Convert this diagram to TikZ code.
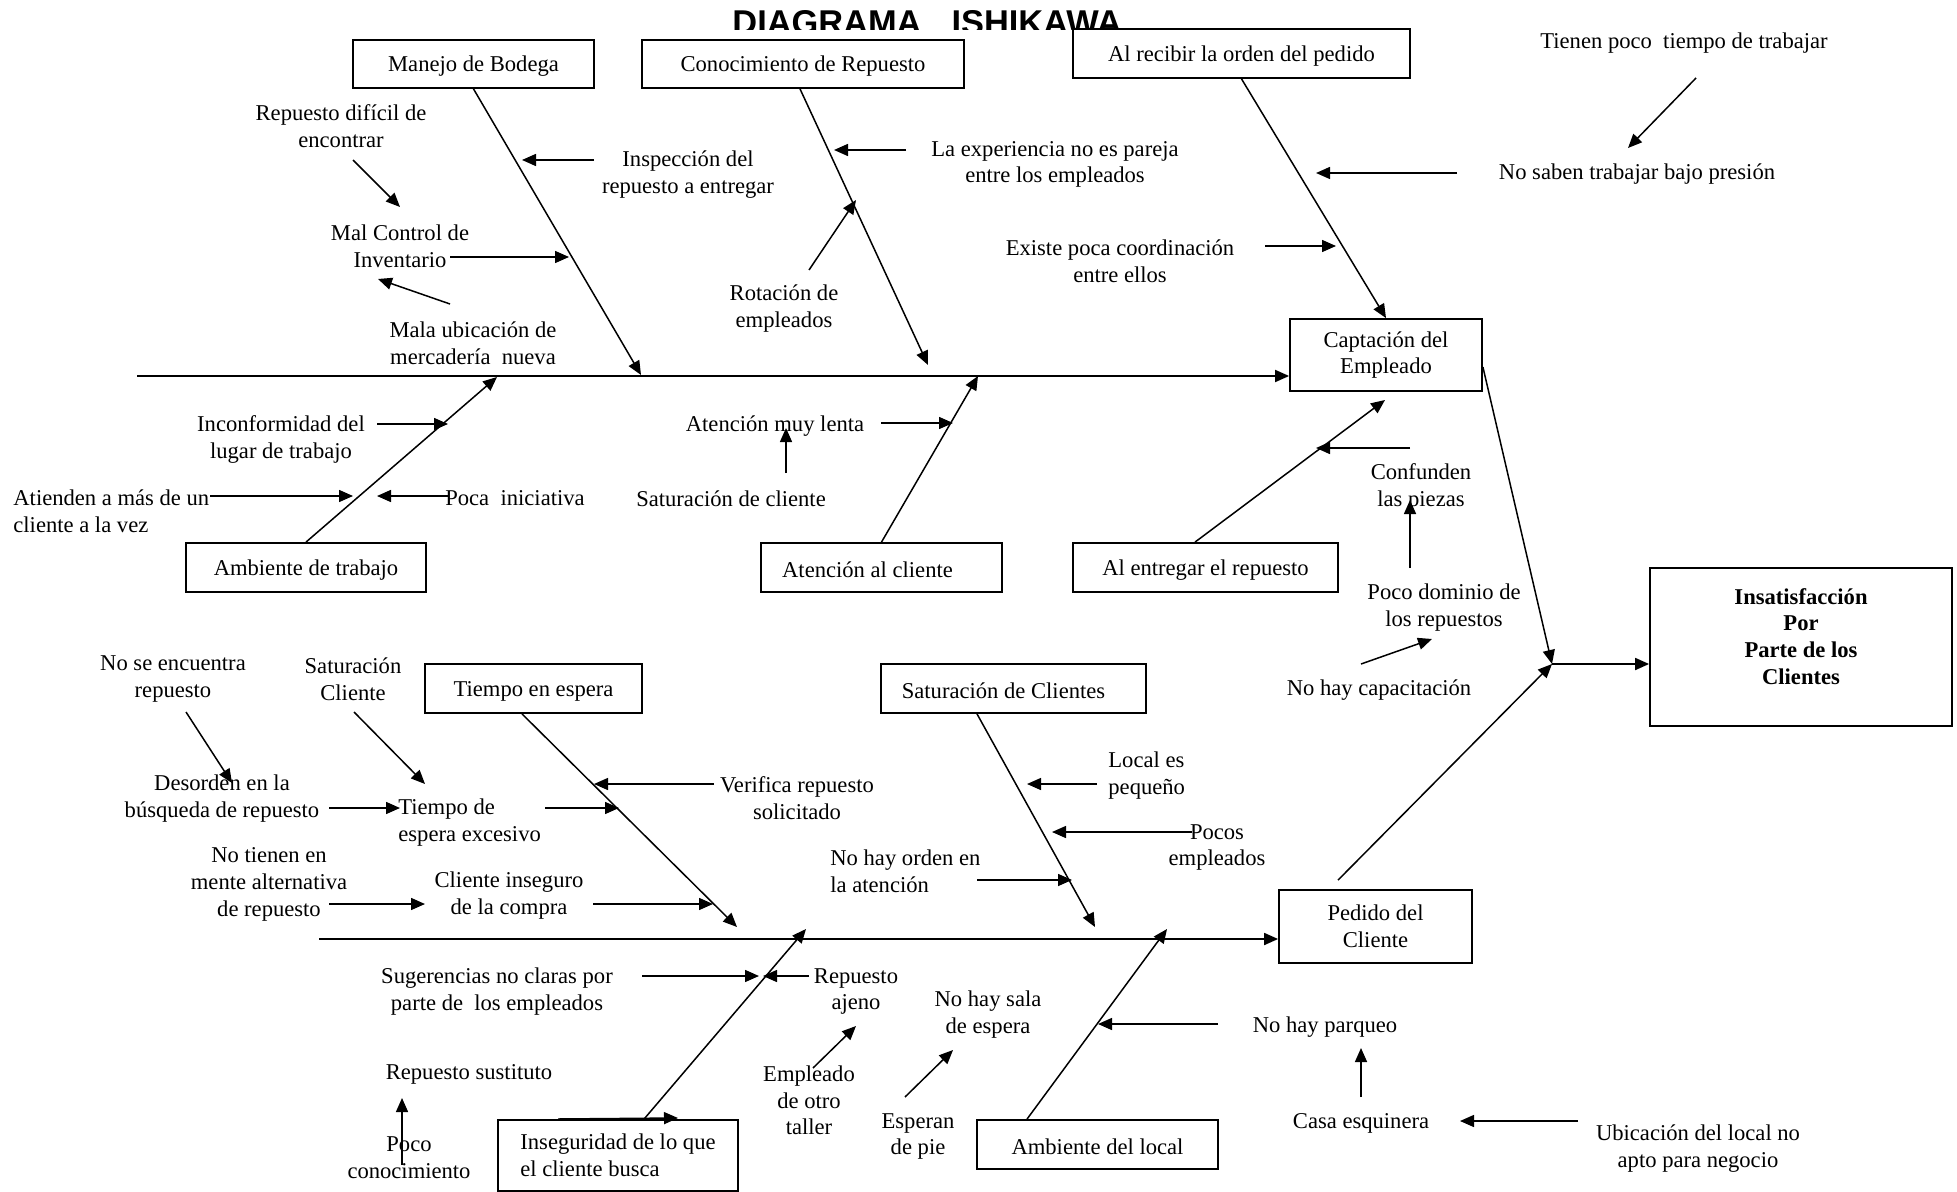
\documentclass[tikz,border=0pt]{standalone}
\usepackage{fontspec}
\setmainfont{Liberation Serif}
\newfontfamily\titlefont{Liberation Sans}
\usetikzlibrary{arrows.meta,calc}
\begin{document}
\begin{tikzpicture}[x=0.5pt,y=-0.5pt,
  every node/.style={font=\fontsize{11.3}{13.4}\selectfont, inner sep=0pt},
  lbl/.style={align=center, yshift=-0.7pt},
  lbll/.style={align=left, yshift=-0.7pt},
  box/.style={draw, line width=0.9pt, align=center,
    execute at begin node={\rule{0pt}{10.3pt}}},
  arr/.style={-{Triangle[length=7pt,width=6pt]}, line width=0.75pt},
  spine/.style={arr, line width=0.9pt},
  bone/.style={arr, line width=0.75pt}]
\useasboundingbox (0,0) rectangle (1957,1192);

% ---------- title (cut off along its lower edge) ----------
\begin{scope}
  \clip (700,0) rectangle (1200,30);
  \node[anchor=base west, font=\titlefont\bfseries\fontsize{17.2}{20}\selectfont] (title) at (732,34.5) {DIAGRAMA\hspace{15pt}ISHIKAWA};
\end{scope}

% ---------- category boxes ----------
\node[box, minimum width=120.5pt, minimum height=24pt]   (b1)  at (473.5,64)    {Manejo de Bodega};
\node[box, minimum width=161pt,   minimum height=24pt]   (b2)  at (803,64)      {Conocimiento de Repuesto};
\node[box, minimum width=168.5pt, minimum height=24.5pt] (b3)  at (1241.5,53.5) {Al recibir la orden del pedido};
\node[box, minimum width=96pt,    minimum height=36pt]   (b4)  at (1386,355)    {Captación del\\Empleado};
\node[box, minimum width=120pt,   minimum height=24.5pt] (b5)  at (306,567.5)   {Ambiente de trabajo};
\node[box, minimum width=120.5pt, minimum height=24.5pt] (b6)  at (881.5,567.5) {Atención al cliente\hspace*{14pt}};
\node[box, minimum width=132.5pt, minimum height=24.5pt] (b7)  at (1205.5,567.5){Al entregar el repuesto};
\node[box, minimum width=151pt,   minimum height=79pt, execute at begin node={}] (b8) at (1801,647) {};
\node[lbl, font=\bfseries\fontsize{11.3}{13.4}\selectfont] (b8t) at (1801,635) {Insatisfacción\\Por\\Parte de los\\Clientes};
\node[box, minimum width=108.5pt, minimum height=24.5pt] (b9)  at (533.5,688.5) {Tiempo en espera};
\node[box, minimum width=132.5pt, minimum height=24.5pt] (b10) at (1013.5,688.5){Saturación de Clientes\hspace*{10pt}};
\node[box, minimum width=96.5pt,  minimum height=36.5pt] (b11) at (1375.5,926.5){Pedido del\\Cliente};
\node[box, minimum width=120pt,   minimum height=35.5pt, align=left] (b12) at (618,1155.5) {Inseguridad de lo que\\el cliente busca};
\node[box, minimum width=120.5pt, minimum height=24.5pt] (b13) at (1097.5,1144.5){Ambiente del local};

% ---------- cause texts ----------
\node[lbl] (c1)  at (341,125)  {Repuesto difícil de\\encontrar};
\node[lbl] (c2)  at (400,245)  {Mal Control de\\Inventario};
\node[lbl] (c3)  at (473,342)  {Mala ubicación de\\mercadería\ \ nueva};
\node[lbl] (c4)  at (688,173)  {Inspección del\\repuesto a entregar};
\node[lbl] (c5)  at (1055,163) {La experiencia no es pareja\\entre los empleados};
\node[lbl] (c6)  at (784,307)  {Rotación de\\empleados};
\node[lbl] (c7)  at (1684,42)  {Tienen poco\ \ tiempo de trabajar};
\node[lbl] (c8)  at (1637,173) {No saben trabajar bajo presión};
\node[lbl] (c9)  at (1120,260) {Existe poca coordinación\\entre ellos};
\node[lbl] (c11) at (281,438)  {Inconformidad del\\lugar de trabajo};
\node[lbll, anchor=west] (c12) at (13,510) {Atienden a más de un\\cliente a la vez};
\node[lbl] (c13) at (515,497)  {Poca\ \ iniciativa};
\node[lbl] (c14) at (775,425)  {Atención muy lenta};
\node[lbl] (c15) at (731,497)  {Saturación de cliente};
\node[lbl] (c16) at (1421,486) {Confunden\\las piezas};
\node[lbl] (c17) at (1444,606) {Poco dominio de\\los repuestos};
\node[lbl] (c18) at (1379,689) {No hay capacitación};
\node[lbl] (c19) at (173,678)  {No se encuentra\\repuesto};
\node[lbl] (c20) at (353,678)  {Saturación\\Cliente};
\node[lbl] (c21) at (222,797)  {Desorden en la\\búsqueda de repuesto};
\node[lbll, anchor=west] (c22) at (398,821) {Tiempo de\\espera excesivo};
\node[lbl] (c23) at (797,797)  {Verifica repuesto\\solicitado};
\node[lbl] (c24) at (269,883)  {No tienen en\\mente alternativa\\de repuesto};
\node[lbl] (c25) at (509,894)  {Cliente inseguro\\de la compra};
\node[lbll, anchor=west] (c26) at (830,870) {No hay orden en\\la atención};
\node[lbll, anchor=west] (c27) at (1108,774) {Local es\\pequeño};
\node[lbl] (c28) at (1217,846) {Pocos\\empleados};
\node[lbl] (c29) at (497,990)  {Sugerencias no claras por\\parte de\ \ los empleados};
\node[lbl] (c30) at (856,990)  {Repuesto\\ajeno};
\node[lbl] (c31) at (988,1013) {No hay sala\\de espera};
\node[lbl] (c32) at (809,1099) {Empleado\\de otro\\taller};
\node[lbl] (c33) at (918,1135) {Esperan\\de pie};
\node[lbl] (c34) at (469,1073) {Repuesto sustituto};
\node[lbl] (c35) at (409,1156) {Poco\\conocimiento};
\node[lbl] (c36) at (1325,1026) {No hay parqueo};
\node[lbl] (c37) at (1361,1122) {Casa esquinera};
\node[lbl] (c38) at (1698,1147) {Ubicación del local no\\apto para negocio};

% ---------- spines ----------
\coordinate (topstart) at (137,376);
\coordinate (botstart) at (319,939);
\coordinate (j) at (1552,664);
\draw[spine] (topstart) -- (topstart -| b4.west);
\draw[spine] (botstart) -- (botstart -| b11.west);
\draw[bone] ([yshift=-6pt]b4.east) -- (j);
\draw[bone] ([xshift=-18.75pt,yshift=4.5pt]b11.north) -- (j);
\draw[spine] (j) -- (j -| b8.west);

% ---------- main bones ----------
\draw[bone] (b1.south) -- (641,375) coordinate (e1);
\draw[bone] ([xshift=-1.5pt]b2.south) -- (928,365) coordinate (e2);
\draw[bone] (b3.south) -- (b4.north);
\draw[bone] (b5.north) -- (497,377) coordinate (e5);
\draw[bone] (b6.north) -- (978,376) coordinate (e6);
\draw[bone] ([xshift=-5.25pt]b7.north) -- (1385,400) coordinate (e7);
\draw[bone] ([xshift=-5.75pt]b9.south) -- (737,927) coordinate (e9);
\draw[bone] ([xshift=-18.25pt]b10.south) -- (1095,927) coordinate (e10);
\draw[bone] ([xshift=13pt]b12.north) -- (806,929) coordinate (e12);
\draw[bone] ([xshift=-35.25pt]b13.north) -- (1167,929) coordinate (e13);

% ---------- sub-cause arrows ----------
\draw[arr] (353,160) coordinate (s1) -- (400,207) coordinate (t1);
\draw[arr] (450,257) coordinate (s2) -- (569,257) coordinate (t2);
\draw[arr] (450,304) coordinate (s3) -- (378,279) coordinate (t3);
\draw[arr] (594,160) coordinate (s4) -- (522,160) coordinate (t4);
\draw[arr] (906,150) coordinate (s5) -- (834,150) coordinate (t5);
\draw[arr] (809,270) coordinate (s6) -- (856,200) coordinate (t6);
\draw[arr] (1696,78) coordinate (s7) -- (1628,148) coordinate (t7);
\draw[arr] (1457,173) coordinate (s8) -- (1316,173) coordinate (t8);
\draw[arr] (1265,246) coordinate (s9) -- (1336,246) coordinate (t9);
\draw[arr] (377,424) coordinate (s10) -- (448,424) coordinate (t10);
\draw[arr] (210,496) coordinate (s11) -- (353,496) coordinate (t11);
\draw[arr] (448,496) coordinate (s12) -- (377,496) coordinate (t12);
\draw[arr] (881,423) coordinate (s13) -- (953,423) coordinate (t13);
\draw[arr] (786,473) coordinate (s14) -- (786,428) coordinate (t14);
\draw[arr] (1410,448) coordinate (s15) -- (1316,448) coordinate (t15);
\draw[arr] (1410,568) coordinate (s16) -- (1410,500) coordinate (t16);
\draw[arr] (1361,664) coordinate (s17) -- (1432,639) coordinate (t17);
\draw[arr] (186,712) coordinate (s18) -- (232,783) coordinate (t18);
\draw[arr] (354,712) coordinate (s19) -- (425,784) coordinate (t19);
\draw[arr] (329,808) coordinate (s20) -- (400,808) coordinate (t20);
\draw[arr] (545,808) coordinate (s21) -- (619,808) coordinate (t21);
\draw[arr] (714,784) coordinate (s22) -- (594,784) coordinate (t22);
\draw[arr] (329,904) coordinate (s23) -- (425,904) coordinate (t23);
\draw[arr] (593,904) coordinate (s24) -- (713,904) coordinate (t24);
\draw[arr] (642,976) coordinate (s25) -- (759,976) coordinate (t25);
\draw[arr] (809,976) coordinate (s26) -- (763,976) coordinate (t26);
\draw[arr] (813,1068) coordinate (s27) -- (856,1026) coordinate (t27);
\draw[arr] (905,1097) coordinate (s28) -- (953,1050) coordinate (t28);
\draw[arr] (402,1165) coordinate (s29) -- (402,1098) coordinate (t29);
\draw[arr] (558,1119) coordinate (s30) -- (678,1118) coordinate (t30);
\draw[arr] (1097,784) coordinate (s31) -- (1027,784) coordinate (t31);
\draw[arr] (1192,832) coordinate (s32) -- (1052,832) coordinate (t32);
\draw[arr] (977,880) coordinate (s33) -- (1072,880) coordinate (t33);
\draw[arr] (1218,1024) coordinate (s34) -- (1098,1024) coordinate (t34);
\draw[arr] (1361,1097) coordinate (s35) -- (1361,1048) coordinate (t35);
\draw[arr] (1578,1121) coordinate (s36) -- (1460,1121) coordinate (t36);
\end{tikzpicture}
\end{document}
